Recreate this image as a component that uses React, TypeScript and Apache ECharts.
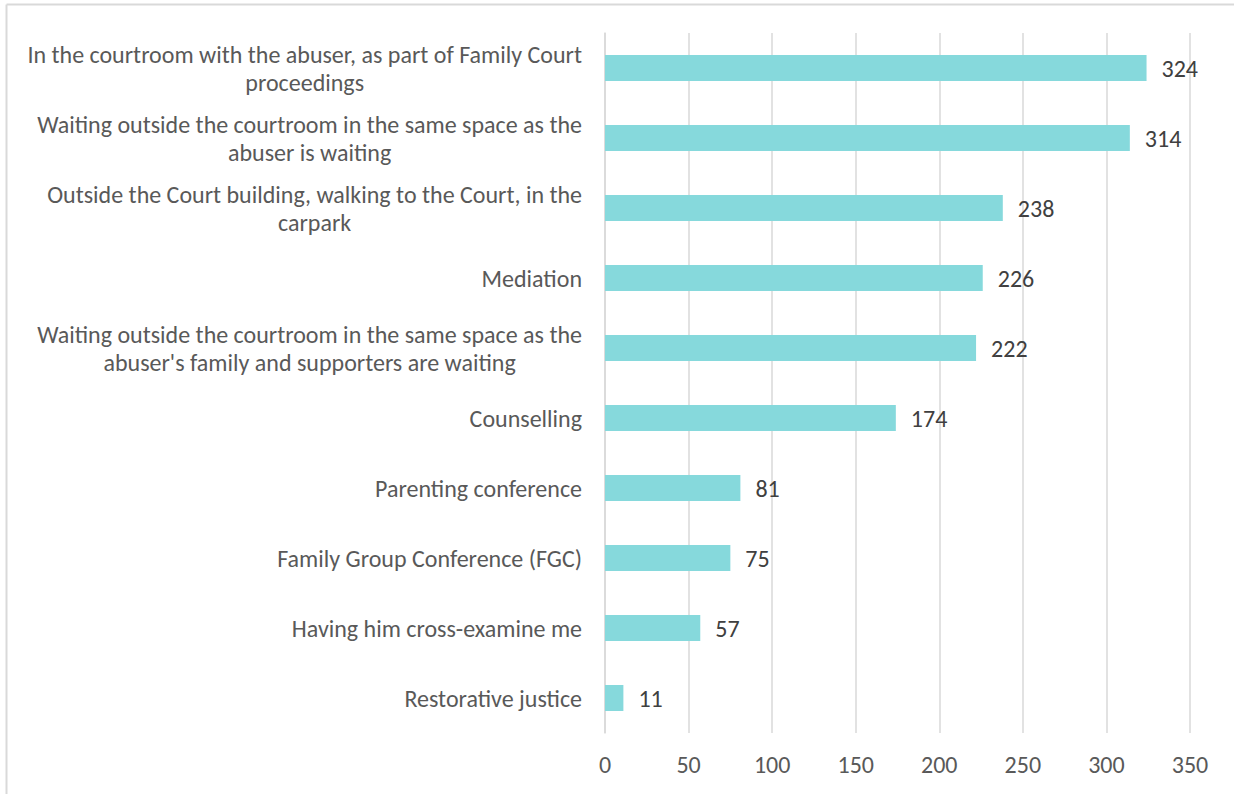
import React, { useEffect, useRef } from "react";
import * as echarts from "echarts";

const categories: string[] = [
  "In the courtroom with the abuser, as part of Family Court\nproceedings",
  "Waiting outside the courtroom in the same space as the\nabuser is waiting",
  "Outside the Court building, walking to the Court, in the\ncarpark",
  "Mediation",
  "Waiting outside the courtroom in the same space as the\nabuser's family and supporters are waiting",
  "Counselling",
  "Parenting conference",
  "Family Group Conference (FGC)",
  "Having him cross-examine me",
  "Restorative justice",
];

const values: number[] = [324, 314, 238, 226, 222, 174, 81, 75, 57, 11];

const xTicks = { min: 0, max: 350, interval: 50 };

const FONT = "Carlito, Calibri, Lato, 'Open Sans', sans-serif";
const GRAY = "#D9D9D9";
const TEXT = "#595959";
const FS = 24;

export default function App() {
  const ref = useRef<HTMLDivElement>(null);
  useEffect(() => {
    if (!ref.current) return;
    const chart = echarts.init(ref.current, undefined, { renderer: "svg" });
    chart.setOption({
      animation: false,
      backgroundColor: "#FFFFFF",
      textStyle: { fontFamily: FONT },
      grid: { left: 605, right: 44, top: 33, bottom: 61, containLabel: false },
      xAxis: {
        type: "value",
        min: xTicks.min,
        max: xTicks.max,
        interval: xTicks.interval,
        axisLine: { show: false },
        axisTick: { show: false },
        splitLine: { show: true, lineStyle: { color: GRAY, width: 1.5 } },
        axisLabel: { color: TEXT, fontSize: FS, fontFamily: FONT, margin: 19 },
      },
      yAxis: {
        type: "category",
        inverse: true,
        data: categories,
        axisLine: { show: true, lineStyle: { color: GRAY, width: 1.5 } },
        axisTick: { show: false },
        axisLabel: {
          margin: 23,
          align: "right",
          formatter: (v: string) =>
            v
              .split("\n")
              .map((l) => `{c|${l}}`)
              .join("\n"),
          rich: {
            c: {
              align: "center",
              fontSize: FS,
              lineHeight: 28,
              color: TEXT,
              fontFamily: FONT,
            },
          },
        },
      },
      series: [
        {
          type: "bar",
          data: values,
          barWidth: 26,
          itemStyle: { color: "#86D9DC" },
          label: {
            show: true,
            position: "right",
            distance: 15,
            color: "#404040",
            fontSize: FS,
            fontFamily: FONT,
          },
        },
      ],
      graphic: [
        {
          type: "line",
          shape: { x1: 6.5, y1: 4.5, x2: 1234, y2: 4.5 },
          style: { stroke: GRAY, lineWidth: 2 },
        },
        {
          type: "line",
          shape: { x1: 6.5, y1: 4.5, x2: 6.5, y2: 794 },
          style: { stroke: GRAY, lineWidth: 2 },
        },
      ],
    });
    return () => chart.dispose();
  }, []);
  return (
    <div
      ref={ref}
      style={{ position: "fixed", left: 0, top: 0, width: 1234, height: 794 }}
    />
  );
}
